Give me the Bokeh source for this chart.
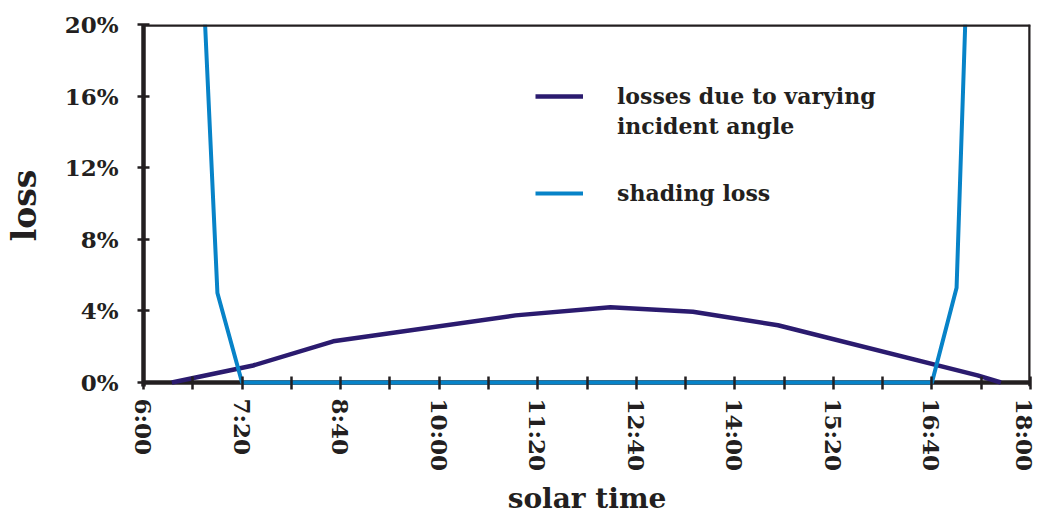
from bokeh.plotting import figure
from bokeh.models import FixedTicker, Span, Legend, LegendItem, Range1d
from bokeh.embed import file_html
from bokeh.resources import INLINE

# ---- data ----
angle_times = ["6:23", "7:29", "8:34", "11:02", "12:19", "13:26", "14:35", "17:17", "17:36"]
angle_loss = [0.0, 0.95, 2.3, 3.75, 4.2, 3.95, 3.2, 0.4, 0.0]          # %
shade_times = ["6:50", "7:00", "7:20", "16:40", "17:00", "17:07"]
shade_loss = [20.0, 5.0, 0.0, 0.0, 5.3, 20.0]                          # %
x_tick_labels = ["6:00", "7:20", "8:40", "10:00", "11:20", "12:40", "14:00", "15:20", "16:40", "18:00"]
x_minor_step_min = 40
y_ticks = [0, 4, 8, 12, 16, 20]
y_tick_labels = ["0%", "4%", "8%", "12%", "16%", "20%"]
series_labels = ["losses due to varying\nincident angle", "shading loss"]
x_title = "solar time"
y_title = "loss"

NAVY = "#2b1b6f"
BLUE = "#0783c8"
INK = "#231f20"
FONT = "DejaVu Serif"


def to_min(t):
    h, m = t.split(":")
    return int(h) * 60 + int(m)


x_start = to_min(x_tick_labels[0])
x_end = to_min(x_tick_labels[-1])

# ---- layout ----
W, H = 1037, 518
BL, BR, BT, BB = 143, 7, 24, 132
frame_h = H - BT - BB
zero_px = 358  # pixel distance from 0% to 20%
y_top = y_ticks[-1]
y_start = y_top - y_top * frame_h / zero_px

p = figure(width=W, height=H, output_backend="svg", toolbar_location=None,
           x_range=Range1d(x_start, x_end), y_range=Range1d(y_start, y_top),
           min_border_left=BL, min_border_right=BR, min_border_top=BT, min_border_bottom=BB)
p.grid.visible = False
p.outline_line_color = None
p.background_fill_color = "white"
p.border_fill_color = "white"

# baseline and frame edges
p.add_layout(Span(location=0, dimension="width", line_color=INK, line_width=4.5, level="underlay"))
p.add_layout(Span(location=y_top, dimension="width", line_color=INK, line_width=4.5))
p.add_layout(Span(location=x_end, dimension="height", line_color=INK, line_width=4.5))

r_angle = p.line([to_min(t) for t in angle_times], angle_loss, line_color=NAVY, line_width=4.5,
                 line_join="round")
r_shade = p.line([to_min(t) for t in shade_times], shade_loss, line_color=BLUE, line_width=4,
                 line_join="round")
r_dummy = p.line(x=[], y=[], line_alpha=0)

# x axis
xticks = list(range(x_start, x_end + 1, x_minor_step_min))
labels_map = {to_min(t): t for t in x_tick_labels}
xa = p.xaxis[0]
xa.ticker = FixedTicker(ticks=xticks)
xa.major_label_overrides = {v: labels_map.get(v, "") for v in xticks}
xa.minor_tick_line_color = None
xa.axis_line_color = None
xa.major_tick_line_color = INK
xa.major_tick_line_width = 2.5
xa.major_tick_in = 10
xa.major_tick_out = 3
xa.major_label_orientation = "vertical"
xa.major_label_standoff = 9
xa.major_label_text_font = FONT
xa.major_label_text_font_style = "bold"
xa.major_label_text_font_size = "23px"
xa.major_label_text_color = INK
xa.axis_label = x_title
xa.axis_label_text_font = FONT
xa.axis_label_text_font_style = "bold"
xa.axis_label_text_font_size = "28px"
xa.axis_label_text_color = INK
xa.axis_label_standoff = 8

# y axis
ya = p.yaxis[0]
ya.ticker = FixedTicker(ticks=y_ticks)
ya.major_label_overrides = {v: l for v, l in zip(y_ticks, y_tick_labels)}
ya.minor_tick_line_color = None
ya.axis_line_color = INK
ya.axis_line_width = 4.5
ya.major_tick_line_color = INK
ya.major_tick_line_width = 2.5
ya.major_tick_in = 6
ya.major_tick_out = 6
ya.major_label_standoff = 19
ya.major_label_text_font = FONT
ya.major_label_text_font_style = "bold"
ya.major_label_text_font_size = "23px"
ya.major_label_text_color = INK
ya.axis_label = y_title
ya.axis_label_text_font = FONT
ya.axis_label_text_font_style = "bold"
ya.axis_label_text_font_size = "33px"
ya.axis_label_text_color = INK
ya.axis_label_standoff = 18

first_lines = series_labels[0].split("\n")


def style_legend(lg):
    lg.border_line_color = None
    lg.background_fill_alpha = 0
    lg.padding = 0
    lg.margin = 0
    lg.spacing = 2
    lg.glyph_width = 48
    lg.glyph_height = 28
    lg.label_height = 28
    lg.label_standoff = 34
    lg.label_text_font = FONT
    lg.label_text_font_style = "bold"
    lg.label_text_font_size = "22px"
    lg.label_text_color = INK


leg1 = Legend(items=[LegendItem(label=first_lines[0], renderers=[r_angle]),
                     LegendItem(label=first_lines[1], renderers=[r_dummy])],
              location=(392, 246))
leg2 = Legend(items=[LegendItem(label=series_labels[1], renderers=[r_shade])],
              location=(392, 179))
for lg in (leg1, leg2):
    style_legend(lg)
    p.add_layout(lg)

open("out.html", "w").write(file_html(p, INLINE))
